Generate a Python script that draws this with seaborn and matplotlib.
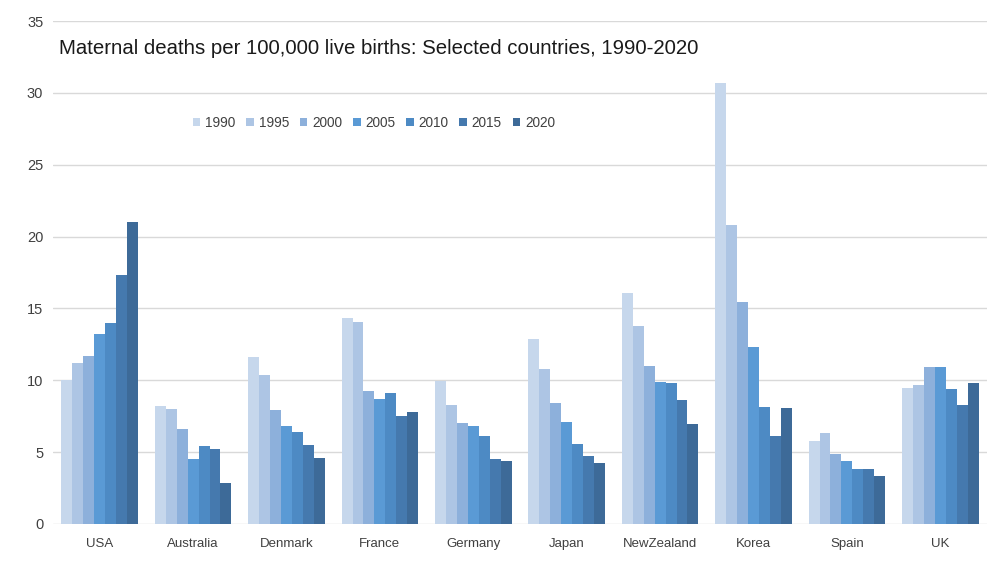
import matplotlib
matplotlib.use("Agg")
import matplotlib.pyplot as plt
import seaborn as sns
import pandas as pd

countries = ['USA', 'Australia', 'Denmark', 'France', 'Germany', 'Japan',
             'NewZealand', 'Korea', 'Spain', 'UK']
years = ['1990', '1995', '2000', '2005', '2010', '2015', '2020']

# values per country, one per year (1990 ... 2020)
usa = [10.0, 11.2, 11.7, 13.2, 14.0, 17.3, 21.0]
australia = [8.2, 8.0, 6.6, 4.5, 5.4, 5.2, 2.85]
denmark = [11.6, 10.4, 7.9, 6.85, 6.4, 5.5, 4.6]
france = [14.35, 14.05, 9.25, 8.7, 9.15, 7.5, 7.8]
germany = [9.95, 8.25, 7.05, 6.85, 6.1, 4.5, 4.35]
japan = [12.85, 10.8, 8.45, 7.1, 5.55, 4.75, 4.25]
new_zealand = [16.1, 13.8, 11.0, 9.9, 9.8, 8.6, 6.95]
korea = [30.7, 20.8, 15.45, 12.3, 8.15, 6.15, 8.05]
spain = [5.75, 6.3, 4.9, 4.4, 3.85, 3.8, 3.35]
uk = [9.45, 9.65, 10.9, 10.95, 9.4, 8.3, 9.8]

colours = ['#C6D7EC', '#ADC5E4', '#8DB0DB', '#5A9AD5', '#4D8AC4', '#4579AE', '#3D6A98']

all_vals = [usa, australia, denmark, france, germany, japan, new_zealand, korea, spain, uk]
rows = []
for c, vals in zip(countries, all_vals):
    for y, v in zip(years, vals):
        rows.append({'country': c, 'year': y, 'value': v})
df = pd.DataFrame(rows)

sns.set_style('white')
plt.rcParams['font.family'] = ['Liberation Sans', 'DejaVu Sans']

fig = plt.figure(figsize=(10, 5.79), dpi=100)
ax = fig.add_axes([0.053, 0.095, 0.934, 0.8685])

sns.barplot(data=df, x='country', y='value', hue='year', hue_order=years,
            palette=colours, width=0.82, gap=0, saturation=1, ax=ax,
            linewidth=0, legend=True)

ax.set_ylim(0, 35)
ax.set_yticks(range(0, 36, 5))
ax.yaxis.grid(True, color='#D9D9D9', linewidth=1)
ax.set_axisbelow(True)
for s in ax.spines.values():
    s.set_visible(False)
ax.tick_params(axis='both', length=0, colors='#404040')
ax.tick_params(axis='y', pad=7, labelsize=10.5)
ax.tick_params(axis='x', pad=10, labelsize=9.5)
ax.set_xlabel('')
ax.set_ylabel('')

handles, labels = ax.get_legend_handles_labels()
ax.legend(handles, labels, ncol=7, frameon=False, loc='center left',
          bbox_to_anchor=(0.193, 0.788), bbox_transform=fig.transFigure,
          borderpad=0, borderaxespad=0,
          fontsize=9.8, handlelength=0.55, handleheight=0.55, handletextpad=0.35,
          columnspacing=0.8, labelcolor='#404040')

fig.text(0.059, 0.917, 'Maternal deaths per 100,000 live births: Selected countries, 1990-2020',
         fontsize=14.7, color='#1a1a1a', va='center', ha='left')

fig.savefig('out.png', dpi=100)
